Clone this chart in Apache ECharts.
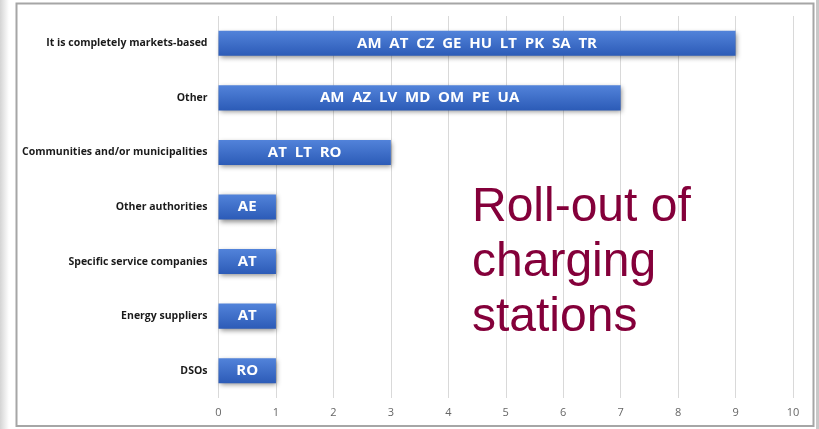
<!DOCTYPE html>
<html><head><meta charset="utf-8">
<script src="https://cdn.jsdelivr.net/npm/echarts@6/dist/echarts.min.js"></script>
<style>html,body{margin:0;padding:0;background:#fff}#c{width:819px;height:429px}</style>
</head><body><div id="c"></div>
<script>
var categories = ["It is completely markets-based","Other","Communities and/or municipalities","Other authorities","Specific service companies","Energy suppliers","DSOs"];
var values = [9,7,3,1,1,1,1];
var countryLabels = ["AM  AT  CZ  GE  HU  LT  PK  SA  TR","AM  AZ  LV  MD  OM  PE  UA","AT  LT  RO","AE","AT","AT","RO"];
var xTicks = [0,1,2,3,4,5,6,7,8,9,10];
var titleLines = ["Roll-out of","charging","stations"];

var chart = echarts.init(document.getElementById('c'));
chart.setOption({
  animation:false,
  backgroundColor:'#fff',
  grid:{left:218.5,right:26,top:16,bottom:31,containLabel:false},
  xAxis:{type:'value',min:0,max:10,interval:1,
    axisLine:{show:false},axisTick:{show:false},
    splitLine:{lineStyle:{color:'#d9d9d9',width:1}},
    axisLabel:{color:'#666',fontSize:11,fontFamily:'Open Sans',margin:9,
      formatter:function(v){return xTicks.indexOf(v)>=0?String(v):'';}}
  },
  yAxis:{type:'category',inverse:true,data:categories,
    axisLine:{show:false},axisTick:{show:false},
    axisLabel:{color:'#1a1a1a',fontSize:10.5,fontWeight:'bold',fontFamily:'Open Sans',margin:11}
  },
  series:[{type:'bar',barWidth:'46%',
    data:values.map(function(v,i){return {value:v,label:{formatter:countryLabels[i]}};}),
    itemStyle:{color:new echarts.graphic.LinearGradient(0,0,0,1,[{offset:0,color:'#5283da'},{offset:1,color:'#2c5bb7'}]),
      shadowColor:'rgba(0,0,0,0.45)',shadowBlur:5,shadowOffsetX:1,shadowOffsetY:2},
    label:{show:true,position:'inside',color:'#fff',fontWeight:'bold',fontSize:15,fontFamily:'Open Sans'}
  }],
  graphic:[
    {type:'rect',shape:{x:0,y:0,width:9,height:429},style:{fill:new echarts.graphic.LinearGradient(0,0,1,0,[{offset:0,color:'#d4d4d4'},{offset:1,color:'#ffffff'}])},z:1},
    {type:'rect',shape:{x:816,y:0,width:3,height:429},style:{fill:'#c8c8c8'},z:1},
    {type:'rect',shape:{x:16.5,y:3.5,width:797,height:422.5},style:{fill:'none',stroke:'#a6a6a6',lineWidth:2},z:100},
    {type:'text',left:472,top:180,z:50,style:{text:titleLines.join('\n'),fill:'#84003a',font:'48px "Liberation Sans", Arial, sans-serif',lineHeight:55}}
  ]
});
</script></body></html>
